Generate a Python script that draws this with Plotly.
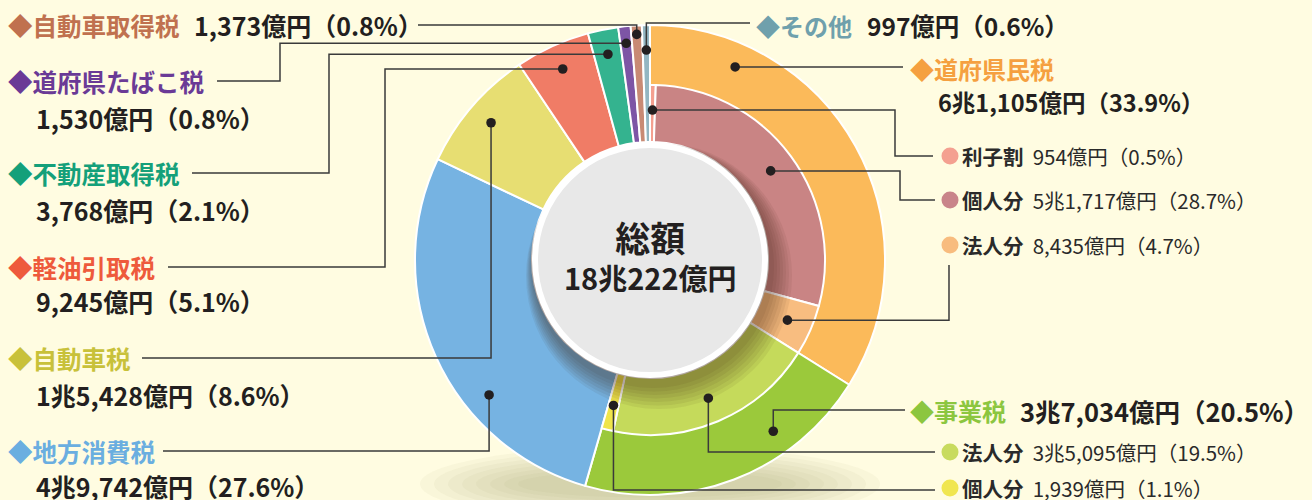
import math
import plotly.graph_objects as go

# ---------------- data (億円) ----------------
outer_labels = ["道府県民税", "事業税", "地方消費税", "自動車税", "軽油引取税",
                "不動産取得税", "道府県たばこ税", "自動車取得税", "その他"]
outer_values = [61105, 37034, 49742, 15428, 9245, 3768, 1530, 1373, 997]

inner_labels = ["利子割", "個人分", "法人分", "法人分", "個人分"]
inner_parents = ["道府県民税", "道府県民税", "道府県民税", "事業税", "事業税"]
inner_values = [954, 51717, 8435, 35095, 1939]

center_title = "総額"

# ---------------- styles ----------------
outer_colors = ["#FBBA5A", "#9BC93B", "#76B3E2", "#E7DE72", "#F07C66",
                "#34B38F", "#7D55A5", "#C88A74", "#93B6C2"]
outer_text_colors = ["#F5A040", "#8CC63F", "#6AAEE0", "#C8C13A", "#EE5A3C",
                     "#14A07A", "#6A3A96", "#C0714F", "#6FA0AC"]
inner_colors = ["#F4A090", "#C98484", "#F8BD80", "#C5DA5B", "#F0E54A"]
inner_dot_colors = ["#F4A090", "#C9848A", "#F8BC7E", "#C8DB5E", "#F0E650"]

W, H = 1312, 500
CX, CY = 650, 260
R_OUT, R_MID, R_HOLE = 235, 175, 118
BG = "#FFFCE1"
DARK = "#231F20"
LINE = "#3A3A3A"
FONT = "Noto Sans CJK JP"

TOTAL = sum(outer_values)


def fmt_oku(v):
    if v >= 10000:
        return f"{v // 10000}兆{v % 10000:,}億円"
    return f"{v:,}億円"


def pct(v):
    return f"（{v / TOTAL * 100:.1f}%）"


def px(x):
    return x / W


def py(y):
    return 1 - y / H


def dom(cx, cy, r):
    return dict(x=[(cx - r) / W, (cx + r) / W], y=[1 - (cy + r) / H, 1 - (cy - r) / H])


def polar(a_deg, r, cx=CX, cy=CY):
    a = math.radians(a_deg)
    return (cx + r * math.sin(a), cy - r * math.cos(a))


def spans(values, total):
    out, acc = [], 0
    for v in values:
        s = acc / total * 360
        acc += v
        out.append((s, acc / total * 360))
    return out


outer_span = spans(outer_values, TOTAL)
inner_span = spans(inner_values, TOTAL)

fig = go.Figure()

# outer ring
fig.add_trace(go.Pie(
    values=outer_values, labels=outer_labels, sort=False, direction="clockwise",
    rotation=0, hole=R_HOLE / R_OUT, domain=dom(CX, CY, R_OUT),
    marker=dict(colors=outer_colors, line=dict(color="white", width=2)),
    textinfo="none", hoverinfo="skip", showlegend=False))

# inner ring (breakdowns), rest transparent
filler = TOTAL - sum(inner_values)
fig.add_trace(go.Pie(
    values=inner_values + [max(filler, 0)],
    labels=[f"{p}・{l}" for p, l in zip(inner_parents, inner_labels)] + ["_rest"],
    sort=False, direction="clockwise", rotation=0,
    hole=R_HOLE / R_MID, domain=dom(CX, CY, R_MID),
    marker=dict(colors=inner_colors + ["rgba(0,0,0,0)"],
                line=dict(color=["white"] * len(inner_values) + ["rgba(0,0,0,0)"],
                          width=[2] * len(inner_values) + [0])),
    textinfo="none", hoverinfo="skip", showlegend=False))

# soft shadow under the centre disc (offset downward/right)
for k in range(7):
    dx, dy, r = 9 - k, 16 - 1.5 * k, 133 - 2 * k
    fig.add_trace(go.Pie(
        values=[1], labels=["s"], sort=False, domain=dom(CX + dx, CY + dy, r),
        marker=dict(colors=["rgba(60,35,20,0.065)"], line=dict(width=0)),
        textinfo="none", hoverinfo="skip", showlegend=False))

# centre disc
fig.add_trace(go.Pie(
    values=[1], labels=["総額"], sort=False, domain=dom(CX, CY, R_HOLE - 3),
    marker=dict(colors=["#E8E8E8"], line=dict(color="white", width=6)),
    textinfo="none", hoverinfo="skip", showlegend=False))

shapes = []
annotations = []

# ground shadow (soft, layered)
for k in range(8):
    rx = 230 - k * 14
    ry = 38 - k * 3.5
    shapes.append(dict(type="circle", xref="paper", yref="paper", layer="below",
                       x0=px(CX - rx), x1=px(CX + rx), y0=py(484 + ry), y1=py(484 - ry),
                       fillcolor="rgba(150,140,100,0.055)", line=dict(width=0)))

# anchor dots (fraction along slice, radius)
outer_anchor = [(0.195, 211), (0.30, 211), (0.342, 210), (0.5, 210), (0.5, 210),
                (0.5, 210), (0.5, 218), (0.5, 226), (0.5, 210)]
inner_anchor = [(0.5, 150)] * 5

outer_dots = [polar(s + f * (e - s), r) for (s, e), (f, r) in zip(outer_span, outer_anchor)]
inner_dots = [polar(s + f * (e - s), r) for (s, e), (f, r) in zip(inner_span, inner_anchor)]


def add_path(pts):
    d = "M " + " L ".join(f"{px(x):.5f},{py(y):.5f}" for x, y in pts)
    shapes.append(dict(type="path", xref="paper", yref="paper", path=d,
                       line=dict(color=LINE, width=1.5)))


def add_dot(pt, r=4.8, color=DARK):
    x, y = pt
    shapes.append(dict(type="circle", xref="paper", yref="paper",
                       x0=px(x - r), x1=px(x + r), y0=py(y + r), y1=py(y - r),
                       fillcolor=color, line=dict(width=0)))


def add_text(x, y, text, size, color=DARK, anchor="left"):
    annotations.append(dict(xref="paper", yref="paper", x=px(x), y=py(y), text=text,
                            showarrow=False, xanchor=anchor, yanchor="middle",
                            borderpad=0,
                            font=dict(family=FONT, size=size, color=color)))


# ---- leader routes ----
d = outer_dots
routes_outer = [
    [(418, 25), (d[7][0], 25), d[7]],
    [(217, 81), (280, 81), (280, d[6][1]), d[6]],
    [(192, 173), (329, 173), (329, d[5][1]), d[5]],
    [(168, 267), (385, 267), (385, d[4][1]), d[4]],
    [(142, 358), (d[3][0], 358), d[3]],
    [(163, 451), (d[2][0], 451), d[2]],
    [d[8], (d[8][0], 23), (750, 23)],
    [d[0], (903, d[0][1])],
    [d[1], (d[1][0], 410), (905, 410)],
]
di = inner_dots
routes_inner = [
    [di[0], (895, di[0][1]), (895, 156), (933, 156)],
    [di[1], (900, di[1][1]), (900, 200), (935, 200)],
    [di[2], (949, di[2][1]), (949, 265)],
    [di[3], (di[3][0], 452), (935, 452)],
    [di[4], (di[4][0], 490), (935, 490)],
]
for pts in routes_outer + routes_inner:
    add_path(pts)
for p in outer_dots + inner_dots:
    add_dot(p)

# ---- left labels ----
left_layout = [(7, 25, 193, 25), (6, 81, 35, 118), (5, 173, 35, 210),
               (4, 267, 35, 301), (3, 358, 35, 395), (2, 451, 35, 486)]
for i, ly, vx, vy in left_layout:
    add_text(7, ly, f"<b>◆{outer_labels[i]}</b>", 24.5, outer_text_colors[i])
    add_text(vx, vy, f"<b>{fmt_oku(outer_values[i])}{pct(outer_values[i])}</b>", 25)

# ---- right labels ----
add_text(755, 25, f"<b>◆{outer_labels[8]}</b>", 24, outer_text_colors[8])
add_text(866, 25, f"<b>{fmt_oku(outer_values[8])}{pct(outer_values[8])}</b>", 24.5)
add_text(909, 68, f"<b>◆{outer_labels[0]}</b>", 24, outer_text_colors[0])
add_text(937, 102, f"<b>{fmt_oku(outer_values[0])}{pct(outer_values[0])}</b>", 23.5)
add_text(909, 410, f"<b>◆{outer_labels[1]}</b>", 24, outer_text_colors[1])
add_text(1019, 410, f"<b>{fmt_oku(outer_values[1])}{pct(outer_values[1])}</b>", 25.5)

inner_label_y = [156, 200, 245, 452, 488]
for i, y in enumerate(inner_label_y):
    add_dot((950, y), r=8.5, color=inner_dot_colors[i])
    add_text(961, y, f"<b>{inner_labels[i]}</b>&nbsp;&nbsp;{fmt_oku(inner_values[i])}{pct(inner_values[i])}",
             20.5, "#2A2A2A")

# ---- centre ----
annotations.append(dict(
    xref="paper", yref="paper", x=px(CX), y=py(254), showarrow=False,
    xanchor="center", yanchor="middle", borderpad=0,
    text=f"<b><span style='font-size:35px'>{center_title}</span><br>{fmt_oku(TOTAL)}</b>",
    font=dict(family=FONT, size=29, color=DARK)))

fig.update_layout(
    width=W, height=H, margin=dict(l=0, r=0, t=0, b=0),
    paper_bgcolor=BG, plot_bgcolor=BG,
    shapes=shapes, annotations=annotations, showlegend=False,
    font=dict(family=FONT),
)

fig.write_html("out.html", config={"displayModeBar": False},
               post_script="document.body.style.margin='0';")
